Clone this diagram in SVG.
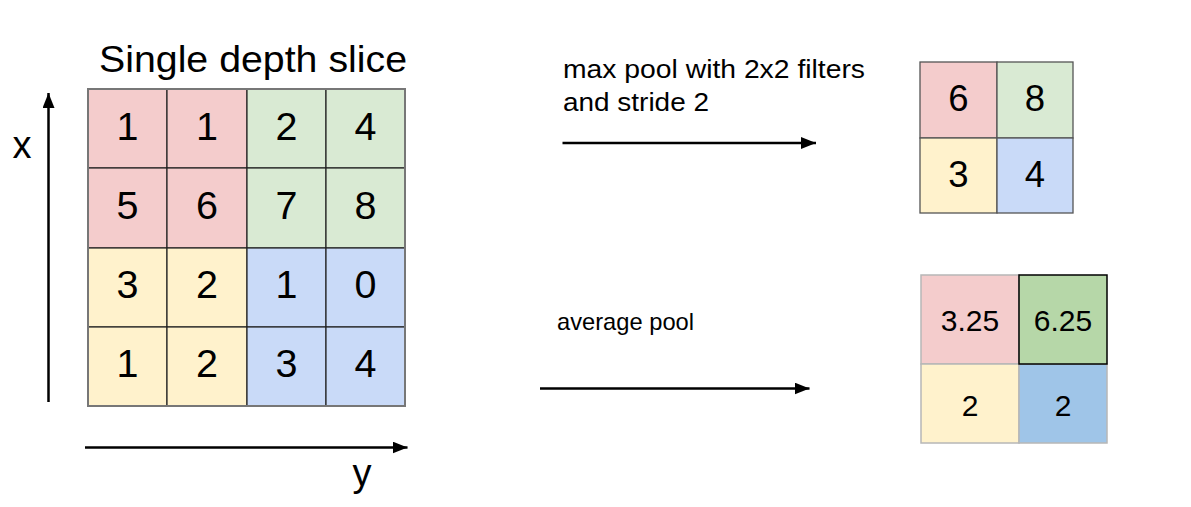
<svg xmlns="http://www.w3.org/2000/svg" width="1191" height="507" viewBox="0 0 1191 507">
<defs>
<style>
text{font-family:"Liberation Sans",Arial,sans-serif;fill:#000}
.num{font-size:39.5px;text-anchor:middle}
.num2{font-size:36.5px;text-anchor:middle}
.num3{font-size:30px;text-anchor:middle}
.pk{fill:#f4cccc}.gr{fill:#d9ead3}.ye{fill:#fff2cc}.bl{fill:#c9daf8}
.gr2{fill:#b6d7a8}.bl2{fill:#9fc5e8}
.c1{stroke:#222;stroke-width:1.2}
.c2{stroke:#555;stroke-width:1.3}
.c3{stroke:#b7b7b7;stroke-width:1.5}
.frame{fill:none;stroke:#777;stroke-width:2}
.arr{stroke:#000;stroke-width:2.5;fill:none}
</style>
<marker id="ah" markerUnits="userSpaceOnUse" markerWidth="16" markerHeight="12" refX="15" refY="6" orient="auto">
<path d="M0,0 L15,6 L0,12 Z" fill="#000"/>
</marker>
</defs>
<rect width="1191" height="507" fill="#fff"/>

<g id="title"><text x="253" y="72" font-size="36.5" text-anchor="middle" textLength="308" lengthAdjust="spacingAndGlyphs">Single depth slice</text></g>

<g id="axis-labels">
<text x="22" y="158" font-size="38" text-anchor="middle">x</text>
<text x="362" y="486" font-size="38" text-anchor="middle">y</text>
</g>

<g id="input-grid">
<rect class="pk c1" x="88" y="89" width="79" height="79"/>
<rect class="pk c1" x="167" y="89" width="80" height="79"/>
<rect class="gr c1" x="247" y="89" width="79" height="79"/>
<rect class="gr c1" x="326" y="89" width="79" height="79"/>
<rect class="pk c1" x="88" y="168" width="79" height="80"/>
<rect class="pk c1" x="167" y="168" width="80" height="80"/>
<rect class="gr c1" x="247" y="168" width="79" height="80"/>
<rect class="gr c1" x="326" y="168" width="79" height="80"/>
<rect class="ye c1" x="88" y="248" width="79" height="79"/>
<rect class="ye c1" x="167" y="248" width="80" height="79"/>
<rect class="bl c1" x="247" y="248" width="79" height="79"/>
<rect class="bl c1" x="326" y="248" width="79" height="79"/>
<rect class="ye c1" x="88" y="327" width="79" height="79"/>
<rect class="ye c1" x="167" y="327" width="80" height="79"/>
<rect class="bl c1" x="247" y="327" width="79" height="79"/>
<rect class="bl c1" x="326" y="327" width="79" height="79"/>
<rect class="frame" x="88" y="89" width="317" height="317"/>
<text class="num" x="127.5" y="139.5">1</text>
<text class="num" x="207" y="139.5">1</text>
<text class="num" x="286.5" y="139.5">2</text>
<text class="num" x="365.5" y="139.5">4</text>
<text class="num" x="127.5" y="218.5">5</text>
<text class="num" x="207" y="218.5">6</text>
<text class="num" x="286.5" y="218.5">7</text>
<text class="num" x="365.5" y="218.5">8</text>
<text class="num" x="127.5" y="298">3</text>
<text class="num" x="207" y="298">2</text>
<text class="num" x="286.5" y="298">1</text>
<text class="num" x="365.5" y="298">0</text>
<text class="num" x="127.5" y="377">1</text>
<text class="num" x="207" y="377">2</text>
<text class="num" x="286.5" y="377">3</text>
<text class="num" x="365.5" y="377">4</text>
</g>

<g id="maxpool-label">
<text x="563" y="78" font-size="26" textLength="302" lengthAdjust="spacingAndGlyphs">max pool with 2x2 filters</text>
<text x="563" y="111" font-size="26" textLength="146" lengthAdjust="spacingAndGlyphs">and stride 2</text>
</g>

<g id="maxpool-grid">
<rect class="pk c2" x="920" y="62" width="77" height="76"/>
<rect class="gr c2" x="997" y="62" width="76" height="76"/>
<rect class="ye c2" x="920" y="138" width="77" height="75"/>
<rect class="bl c2" x="997" y="138" width="76" height="75"/>
<text class="num2" x="958.5" y="111">6</text>
<text class="num2" x="1035" y="111">8</text>
<text class="num2" x="958.5" y="187">3</text>
<text class="num2" x="1035" y="187">4</text>
</g>

<g id="avgpool-label">
<text x="557" y="330" font-size="24" textLength="137" lengthAdjust="spacingAndGlyphs">average pool</text>
</g>

<g id="avgpool-grid">
<rect class="pk c3" x="921" y="275" width="98" height="89"/>
<rect class="ye c3" x="921" y="364" width="98" height="79"/>
<rect class="bl2 c3" x="1019" y="364" width="88" height="79"/>
<rect class="gr2" x="1019" y="275" width="88" height="89" stroke="#000" stroke-width="1.5"/>
<text class="num3" x="970" y="331">3.25</text>
<text class="num3" x="1063" y="331">6.25</text>
<text class="num3" x="970" y="416">2</text>
<text class="num3" x="1063" y="416">2</text>
</g>

<g id="connectors">
<line class="arr" x1="48.5" y1="402" x2="48.5" y2="93" marker-end="url(#ah)"/>
<line class="arr" x1="85" y1="447.5" x2="407.5" y2="447.5" marker-end="url(#ah)"/>
<line class="arr" x1="562.5" y1="143" x2="816" y2="143" marker-end="url(#ah)"/>
<line class="arr" x1="540" y1="388.5" x2="809.5" y2="388.5" marker-end="url(#ah)"/>
</g>
</svg>
